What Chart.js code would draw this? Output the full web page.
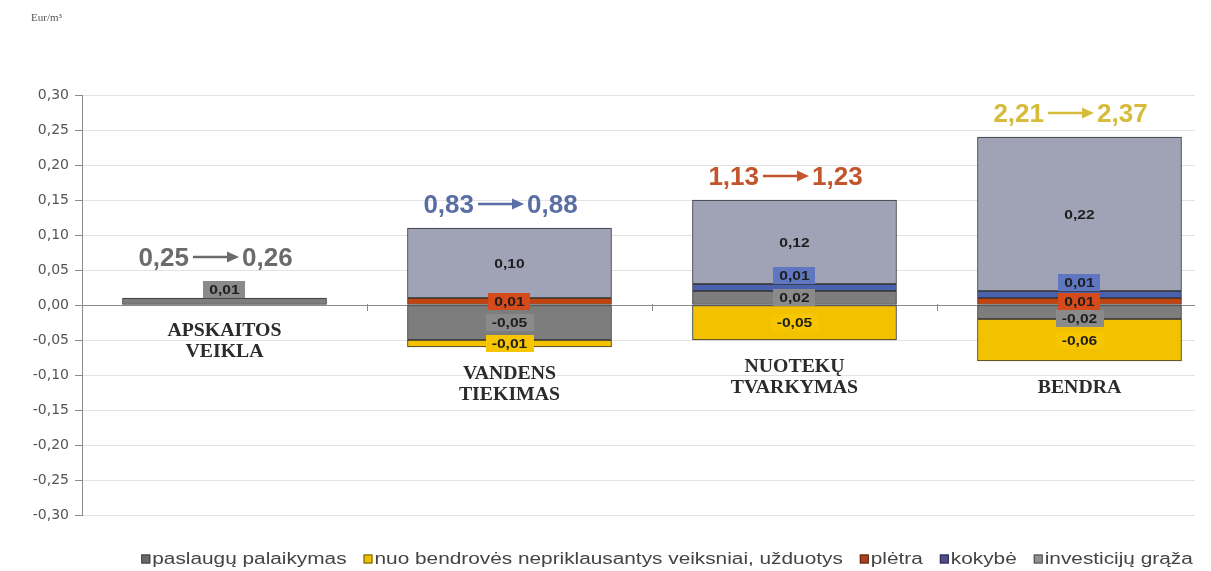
<!DOCTYPE html>
<html>
<head>
<meta charset="utf-8">
<script src="https://cdn.jsdelivr.net/npm/chart.js@4.4.1/dist/chart.umd.min.js"></script>
<style>
  html, body { margin: 0; padding: 0; background: #ffffff; }
  #wrap { position: relative; width: 1211px; height: 571px; }
</style>
</head>
<body>
<div id="wrap"><canvas id="c" width="1211" height="571"></canvas></div>
<script>
// ---------------- DATA ----------------
const categories = [['APSKAITOS', 'VEIKLA'], ['VANDENS', 'TIEKIMAS'], ['NUOTEKŲ', 'TVARKYMAS'], ['BENDRA']];
const seriesNames = ['paslaugų palaikymas', 'nuo bendrovės nepriklausantys veiksniai, užduotys', 'plėtra', 'kokybė', 'investicijų grąža'];
const paslauguPalaikymas = [0.01, -0.05, 0.02, -0.02];
const nuoBendroves      = [null, -0.01, -0.05, -0.06];
const pletra            = [null, 0.01, null, 0.01];
const kokybe            = [null, null, 0.01, 0.01];
const investicijuGraza  = [null, 0.10, 0.12, 0.22];
const tariffBefore = [0.25, 0.83, 1.13, 2.21];
const tariffAfter  = [0.26, 0.88, 1.23, 2.37];
const yMin = -0.30, yMax = 0.30, yStep = 0.05;
const unitLabel = 'Eur/m³';

// ---------------- STYLES ----------------
const barColors    = ['#7d7d7d', '#f2c100', '#c1440e', '#4a62ae', '#a0a2b6'];
const legendColors = ['#6a6a6a', '#f0c000', '#a84220', '#4f4f8a', '#909096'];
const legendBorders= ['#3a3a3a', '#6b5a10', '#5a2410', '#2a2a55', '#4a4a4a'];
const labelBoxes   = ['#8a8a8a', '#f7c600', '#d64b1b', '#5f77c0', null];
const annotationColors = ['#6b6b6b', '#5a6ea6', '#c2552b', '#d7bc3c'];

const fmt = v => v.toFixed(2).replace('.', ',');
const toPts = arr => arr.map((v, i) => ({ x: i, y: v }));
const seriesData = [paslauguPalaikymas, nuoBendroves, pletra, kokybe, investicijuGraza];

function sText(ctx, txt, x, y, sx, align) {
  const w = ctx.measureText(txt).width * sx;
  const left = align === 'center' ? x - w / 2 : (align === 'right' ? x - w : x);
  ctx.save();
  ctx.translate(left, y);
  ctx.scale(sx, 1);
  ctx.textAlign = 'left';
  ctx.fillText(txt, 0, 0);
  ctx.restore();
  return w;
}

const overlayPlugin = {
  id: 'overlay',
  beforeDatasetsDraw(chart) {
    const ctx = chart.ctx, xs = chart.scales.x, ys = chart.scales.y;
    const y0 = ys.getPixelForValue(0);
    ctx.save();
    ctx.strokeStyle = '#8a8a8a';
    ctx.lineWidth = 1;
    for (let i = 0; i < categories.length - 1; i++) {
      const px = Math.round(xs.getPixelForValue(i + 0.5)) + 0.5;
      ctx.beginPath(); ctx.moveTo(px, y0 - 1); ctx.lineTo(px, y0 + 6); ctx.stroke();
    }
    ctx.restore();
  },
  afterDatasetsDraw(chart) {
    const ctx = chart.ctx;
    ctx.save();
    for (let i = 0; i < categories.length; i++) {
      const items = [];
      let barTop = Infinity, barBottom = -Infinity, cx = null;
      chart.data.datasets.forEach((ds, d) => {
        const v = ds.data[i].y;
        if (v === null || v === undefined) return;
        const el = chart.getDatasetMeta(d).data[i];
        const top = Math.min(el.y, el.base), bot = Math.max(el.y, el.base);
        barTop = Math.min(barTop, top); barBottom = Math.max(barBottom, bot);
        cx = el.x;
        items.push({ d, v, top, bot });
      });
      // segment value labels
      ctx.font = 'bold 13px "Liberation Sans", Arial, sans-serif';
      const bh = 17;
      items.forEach(it => {
        const above = it.d === 3 || items.length === 1;
        it.cy = above ? it.top - bh / 2 : (it.top + it.bot) / 2;
      });
      items.sort((a, b) => a.cy - b.cy);
      let prevBottom = -Infinity, minBoxTop = Infinity;
      items.forEach(it => {
        if (it.cy - bh / 2 < prevBottom) it.cy = prevBottom + bh / 2;
        prevBottom = it.cy + bh / 2;
        const txt = fmt(it.v);
        const tw = ctx.measureText(txt).width * 1.2;
        const bg = labelBoxes[it.d];
        if (bg) {
          ctx.fillStyle = bg;
          ctx.fillRect(Math.round(cx - tw / 2 - 6), Math.round(it.cy - bh / 2), Math.round(tw + 12), bh);
          minBoxTop = Math.min(minBoxTop, it.cy - bh / 2);
        }
        ctx.fillStyle = '#1e1e1e';
        ctx.textBaseline = 'middle';
        sText(ctx, txt, cx, it.cy + 1, 1.2, 'center');
      });
      // tariff annotation
      const baseY = Math.min(barTop, minBoxTop) - 15;
      const acx = cx - 9;
      ctx.font = 'bold 26px "Liberation Sans", Arial, sans-serif';
      ctx.textBaseline = 'alphabetic';
      const t1 = fmt(tariffBefore[i]), t2 = fmt(tariffAfter[i]);
      const w1 = ctx.measureText(t1).width, w2 = ctx.measureText(t2).width;
      const arrowLen = 46, g1 = 4, g2 = 3;
      const total = w1 + g1 + arrowLen + g2 + w2;
      let x = acx - total / 2;
      const col = annotationColors[i];
      ctx.fillStyle = col; ctx.strokeStyle = col;
      ctx.textAlign = 'left';
      ctx.fillText(t1, x, baseY);
      x += w1 + g1;
      const ay = baseY - 9;
      ctx.lineWidth = 2.5;
      ctx.beginPath(); ctx.moveTo(x, ay); ctx.lineTo(x + arrowLen - 10, ay); ctx.stroke();
      ctx.beginPath(); ctx.moveTo(x + arrowLen - 12, ay - 5.5); ctx.lineTo(x + arrowLen, ay); ctx.lineTo(x + arrowLen - 12, ay + 5.5); ctx.closePath(); ctx.fill();
      x += arrowLen + g2;
      ctx.fillText(t2, x, baseY);
      // category labels
      ctx.font = 'bold 18px "Liberation Serif", "Times New Roman", serif';
      ctx.fillStyle = '#2b2b2b';
      ctx.textBaseline = 'middle';
      categories[i].forEach((line, k) => {
        sText(ctx, line, cx, barBottom + 27 + k * 21, 1.1, 'center');
      });
    }
    ctx.restore();
  },
  afterDraw(chart) {
    const ctx = chart.ctx;
    ctx.save();
    // unit label
    ctx.font = '11px "Liberation Serif", "Times New Roman", serif';
    ctx.fillStyle = '#555';
    ctx.textBaseline = 'middle';
    ctx.textAlign = 'left';
    ctx.fillText(unitLabel, 31, 18);
    // legend
    ctx.font = '16px "Liberation Sans", Arial, sans-serif';
    const sx = 1.3, box = 9, boxGap = 2, itemGap = 17;
    const widths = chart.data.datasets.map(ds => ctx.measureText(ds.label).width * sx);
    const total = widths.reduce((a, w) => a + box + boxGap + w, 0) + itemGap * (widths.length - 1);
    let x = 667 - total / 2;
    const ly = 559;
    chart.data.datasets.forEach((ds, d) => {
      ctx.fillStyle = legendColors[d];
      ctx.fillRect(x, ly - box / 2, box, box);
      ctx.strokeStyle = legendBorders[d];
      ctx.lineWidth = 1;
      ctx.strokeRect(x + 0.5, ly - box / 2 + 0.5, box - 1, box - 1);
      x += box + boxGap;
      ctx.fillStyle = '#444';
      ctx.textBaseline = 'middle';
      sText(ctx, ds.label, x, ly + 1, sx, 'left');
      x += widths[d] + itemGap;
    });
    ctx.restore();
  }
};

const chart = new Chart(document.getElementById('c'), {
  type: 'bar',
  data: {
    datasets: seriesData.map((arr, d) => ({
      label: seriesNames[d],
      data: toPts(arr),
      backgroundColor: barColors[d],
      borderColor: '#333333',
      borderWidth: 1,
      borderSkipped: false,
      barThickness: 204
    }))
  },
  options: {
    responsive: false,
    animation: false,
    devicePixelRatio: 1,
    layout: { padding: { left: 0, right: 16, top: 95, bottom: 56 } },
    plugins: { legend: { display: false }, tooltip: { enabled: false }, title: { display: false } },
    scales: {
      x: { type: 'linear', stacked: true, display: false, offset: false, min: -0.5, max: 3.4053 },
      y: {
        stacked: true, min: yMin, max: yMax,
        ticks: {
          stepSize: yStep,
          color: '#555',
          padding: 6,
          font: { family: '"DejaVu Sans", sans-serif', size: 14 },
          callback: v => fmt(Math.abs(v) < 1e-9 ? 0 : v)
        },
        grid: {
          color: c => (c.tick && Math.abs(c.tick.value) < 1e-9) ? '#8a8a8a' : '#e3e3e3',
          tickColor: '#8a8a8a',
          tickLength: 7,
          lineWidth: 1
        },
        border: { color: '#8a8a8a', width: 1 },
        afterFit: s => { s.width = 82; }
      }
    }
  },
  plugins: [overlayPlugin]
});
</script>
</body>
</html>
